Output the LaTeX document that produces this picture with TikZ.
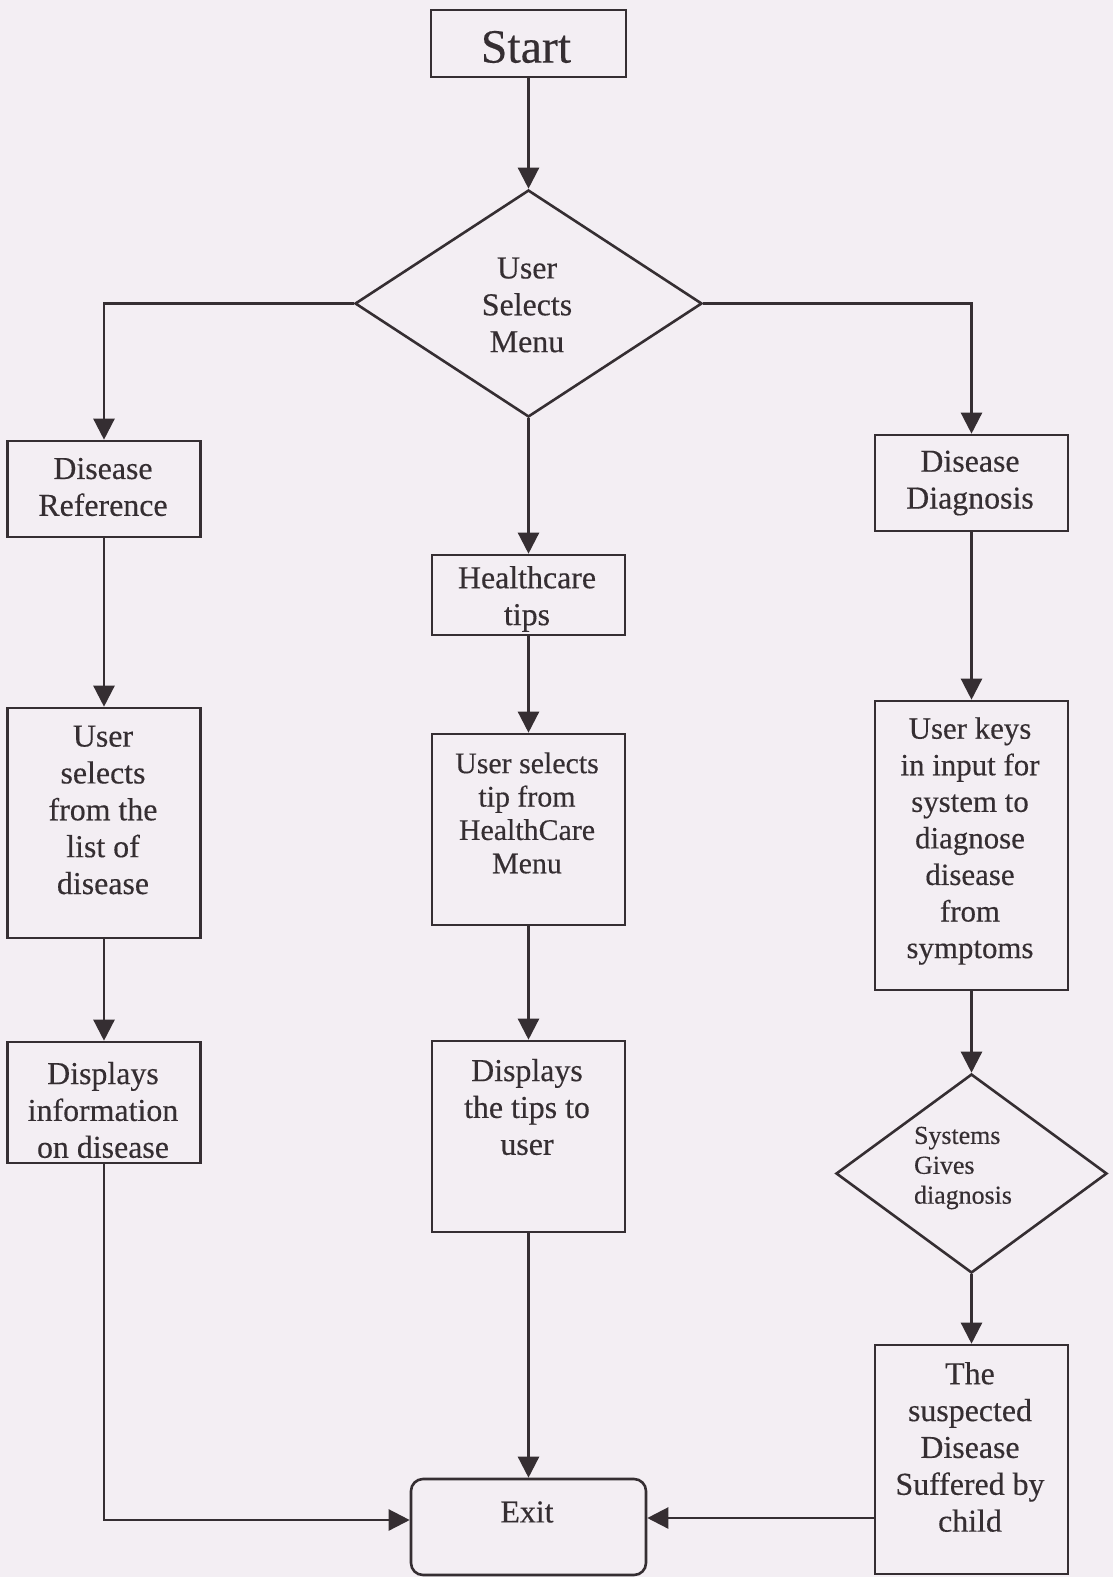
\documentclass[tikz,border=0pt]{standalone}
\usepackage{fontspec}
\setmainfont{Liberation Serif}[FakeBold=0.35]
\usetikzlibrary{shapes.geometric,arrows.meta}
\definecolor{paper}{HTML}{F3EEF3}
\definecolor{ink}{HTML}{352E32}
\tikzset{
  box/.style={draw=ink, line width=2.6bp, inner sep=0pt, rectangle},
  decision/.style={draw=ink, line width=2.6bp, inner sep=0pt, diamond},
  label/.style={text=ink, align=center, inner sep=0pt, font=\fontsize{32}{37}\selectfont},
  flow/.style={draw=ink, line width=2.4bp, -{Triangle[length=21bp,width=21bp]}},
}
\begin{document}
\begin{tikzpicture}[x=1bp,y=-1bp]
\useasboundingbox (0,0) rectangle (1113,1577);
\fill[paper] (0,0) rectangle (1113,1577);

% start and main menu
\node[box, minimum width=195bp, minimum height=67bp] (start) at (528.5,43.5) {};
\node[label, font=\fontsize{48}{52}\selectfont] (tstart) at (526,47) {Start};
\node[decision, minimum width=347bp, minimum height=227bp] (menu) at (528.5,303.5) {};
\node[label] (tmenu) at (527,305) {User\\Selects\\Menu};

% left branch: disease reference
\node[box, minimum width=193bp, minimum height=96bp] (ref) at (104,489) {};
\node[label] (tref) at (103,487) {Disease\\Reference};
\node[box, minimum width=193bp, minimum height=230bp] (usel) at (104,823) {};
\node[label] (tusel) at (103,810) {User\\selects\\from the\\list of\\disease};
\node[box, minimum width=193bp, minimum height=121bp] (dinfo) at (104,1102.5) {};
\node[label] (tdinfo) at (103,1110) {Displays\\information\\on disease};

% middle branch: healthcare tips
\node[box, minimum width=193bp, minimum height=80bp] (tips) at (528.5,595) {};
\node[label] (ttips) at (527,599) {Healthcare\\tips};
\node[box, minimum width=193bp, minimum height=191bp] (utip) at (528.5,829.5) {};
\node[label, font=\fontsize{30}{33.5}\selectfont] (tutip) at (527,813) {User selects\\tip from\\HealthCare\\Menu};
\node[box, minimum width=193bp, minimum height=191bp] (dtips) at (528.5,1136.5) {};
\node[label] (tdtips) at (527,1107) {Displays\\the tips to\\user};

% right branch: disease diagnosis
\node[box, minimum width=193bp, minimum height=96bp] (diag) at (971.5,483) {};
\node[label] (tdiag) at (970,483) {Disease\\Diagnosis};
\node[box, minimum width=193bp, minimum height=289bp] (ukeys) at (971.5,845.5) {};
\node[label, font=\fontsize{31}{36.7}\selectfont] (tukeys) at (970,841) {User keys\\in input for\\system to\\diagnose\\disease\\from\\symptoms};
\node[decision, minimum width=271bp, minimum height=199bp] (gives) at (971.5,1173.5) {};
\node[label, align=left, font=\fontsize{26}{30}\selectfont] (tgives) at (963,1168) {Systems\\Gives\\diagnosis};
\node[box, minimum width=193bp, minimum height=229bp] (susp) at (971.5,1459.5) {};
\node[label] (tsusp) at (970,1447) {The\\suspected\\Disease\\Suffered by\\child};

% end
\node[draw=ink, line width=2.6bp, rounded corners=12bp, minimum width=235bp, minimum height=96bp, inner sep=0pt] (exit) at (528.5,1527) {};
\node[label] (texit) at (527,1512) {Exit};

% connectors
\draw[flow] (start.south) -- (menu.north);
\draw[flow] (menu.west) -| (ref.north);
\draw[flow] (menu.east) -| (diag.north);
\draw[flow] (menu.south) -- (tips.north);
\draw[flow] (ref.south) -- (usel.north);
\draw[flow] (usel.south) -- (dinfo.north);
\draw[flow] (tips.south) -- (utip.north);
\draw[flow] (utip.south) -- (dtips.north);
\draw[flow] (dtips.south) -- (exit.north);
\draw[flow] (diag.south) -- (ukeys.north);
\draw[flow] (ukeys.south) -- (gives.north);
\draw[flow] (gives.south) -- (susp.north);
\coordinate (exitin) at ([yshift=7bp]exit.west);
\coordinate (exitout) at ([yshift=9bp]exit.east);
\draw[flow] (dinfo.south) |- (exitin);
\draw[flow] (exitout -| susp.west) -- (exitout);
\end{tikzpicture}
\end{document}
